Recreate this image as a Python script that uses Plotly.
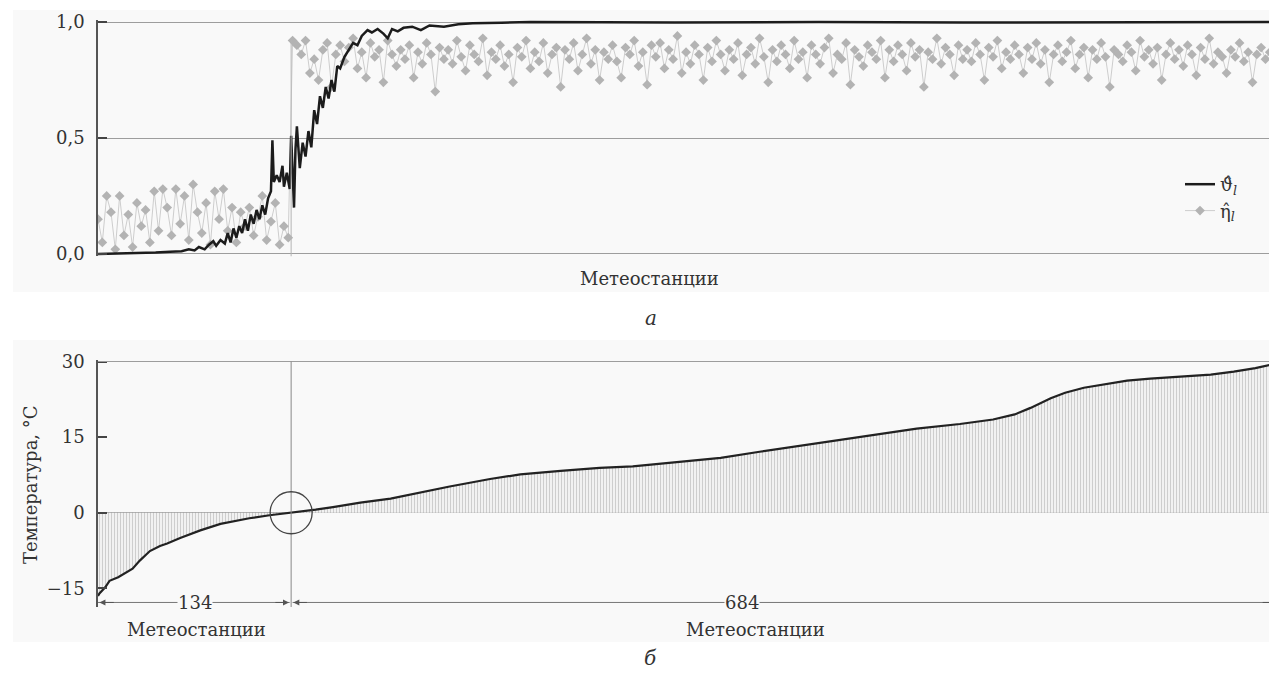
import plotly.graph_objects as go

W, H = 1277, 673          # target picture size
OFF = 8                   # default page body margin
FW, FH = W - OFF, H - OFF  # figure size so that it fits the window
N_ST = 818
SPLIT = 134

# ---------------- top panel data ----------------
theta_st = [0, 20, 40, 50, 58, 63, 67, 70, 74, 77,
            80, 82, 85, 88, 90, 92, 94, 96, 98, 100,
            102, 104, 106, 108, 110, 112, 114, 116, 118, 120,
            121, 122, 124, 126, 128, 129, 131, 133, 134, 136,
            137, 138, 140, 142, 144, 146, 148, 150, 152, 154,
            156, 158, 160, 162, 164, 166, 168, 171, 174, 177,
            180, 183, 187, 190, 194, 198, 201, 204, 208, 212,
            218, 224, 230, 240, 250, 260, 280, 300, 400, 500,
            600, 700, 818]
theta_val = [0.0, 0.002, 0.006, 0.01, 0.012, 0.02, 0.015, 0.03, 0.02, 0.04,
             0.055, 0.035, 0.06, 0.045, 0.09, 0.05, 0.11, 0.07, 0.12, 0.09,
             0.15, 0.1, 0.17, 0.13, 0.19, 0.15, 0.21, 0.17, 0.24, 0.27,
             0.49, 0.31, 0.34, 0.31, 0.38, 0.29, 0.35, 0.28, 0.51, 0.2,
             0.45, 0.55, 0.37, 0.48, 0.42, 0.53, 0.46, 0.62, 0.56, 0.68,
             0.63, 0.72, 0.67, 0.75, 0.7, 0.81, 0.8, 0.85, 0.88, 0.91,
             0.9, 0.94, 0.965, 0.955, 0.97, 0.95, 0.93, 0.97, 0.96, 0.975,
             0.98, 0.965, 0.985, 0.98, 0.99, 0.995, 0.997, 1.0, 0.998, 1.0,
             0.998, 1.0, 1.0]

eta_low_st = list(range(0, 133, 3))
eta_low = [0.15, 0.05, 0.25, 0.18, 0.02, 0.25, 0.08, 0.17, 0.03, 0.22,
           0.12, 0.19, 0.05, 0.27, 0.10, 0.28, 0.20, 0.08, 0.28, 0.13,
           0.25, 0.06, 0.30, 0.18, 0.09, 0.22, 0.04, 0.27, 0.15, 0.28,
           0.10, 0.20, 0.05, 0.18, 0.12, 0.20, 0.08, 0.16, 0.25, 0.06,
           0.14, 0.22, 0.04, 0.12, 0.07]

eta_high_st = list(range(135, 817, 3))
eta_high = [0.92, 0.90, 0.86, 0.92, 0.78, 0.84, 0.75, 0.88, 0.91, 0.72, 0.86, 0.90,
            0.83, 0.89, 0.93, 0.80, 0.87, 0.76, 0.91, 0.85, 0.88, 0.74, 0.92, 0.86,
            0.81, 0.88, 0.84, 0.90, 0.76, 0.87, 0.82, 0.91, 0.86, 0.70, 0.89, 0.84,
            0.88, 0.82, 0.92, 0.85, 0.79, 0.90, 0.86, 0.83, 0.93, 0.77, 0.87, 0.84,
            0.90, 0.81, 0.86, 0.74, 0.89, 0.85, 0.92, 0.80, 0.87, 0.83, 0.91, 0.78,
            0.86, 0.89, 0.72, 0.88, 0.84, 0.91, 0.79, 0.86, 0.93, 0.82, 0.88, 0.75,
            0.87, 0.84, 0.90, 0.83, 0.76, 0.89, 0.86, 0.92, 0.81, 0.87, 0.73, 0.90,
            0.85, 0.91, 0.80, 0.88, 0.84, 0.94, 0.78, 0.87, 0.82, 0.90, 0.86, 0.75,
            0.89, 0.83, 0.92, 0.86, 0.79, 0.88, 0.84, 0.91, 0.77, 0.86, 0.89, 0.82,
            0.93, 0.85, 0.74, 0.88, 0.83, 0.90, 0.86, 0.80, 0.92, 0.84, 0.87, 0.76,
            0.90, 0.86, 0.82, 0.89, 0.93, 0.78, 0.86, 0.84, 0.91, 0.73, 0.88, 0.85,
            0.81, 0.90, 0.87, 0.84, 0.92, 0.76, 0.88, 0.83, 0.90, 0.86, 0.79, 0.91,
            0.85, 0.88, 0.72, 0.87, 0.84, 0.93, 0.82, 0.89, 0.86, 0.77, 0.90, 0.84,
            0.88, 0.83, 0.91, 0.86, 0.75, 0.89, 0.85, 0.92, 0.80, 0.87, 0.84, 0.90,
            0.86, 0.78, 0.89, 0.84, 0.91, 0.82, 0.88, 0.74, 0.86, 0.90, 0.83, 0.87,
            0.92, 0.80, 0.86, 0.89, 0.76, 0.88, 0.84, 0.91, 0.85, 0.72, 0.88, 0.86,
            0.83, 0.90, 0.87, 0.79, 0.92, 0.85, 0.88, 0.82, 0.89, 0.75, 0.86, 0.91,
            0.84, 0.88, 0.81, 0.90, 0.86, 0.77, 0.89, 0.84, 0.93, 0.82, 0.87, 0.85,
            0.78, 0.88, 0.85, 0.91, 0.83, 0.87, 0.74, 0.86, 0.89, 0.84, 0.87, 0.85]

top_ticks = [0.0, 0.5, 1.0]
top_ticktext = ["0,0", "0,5", "1,0"]

# ---------------- bottom panel data ----------------
temp_st = [0, 1, 5, 8, 14, 19, 24, 29, 36, 43,
           48, 57, 71, 85, 105, 119, 135, 151, 163, 182,
           203, 221, 244, 272, 293, 321, 348, 371, 404, 432,
           459, 487, 508, 529, 568, 598, 621, 636, 647, 661,
           671, 684, 702, 714, 730, 753, 772, 788, 803, 818]
temp_val = [-16.5, -16.0, -14.8, -13.5, -12.8, -12.0, -11.1, -9.5, -7.6, -6.6,
            -6.1, -5.0, -3.5, -2.2, -1.1, -0.5, 0.0, 0.6, 1.1, 2.0,
            2.8, 3.9, 5.2, 6.7, 7.6, 8.3, 8.9, 9.2, 10.1, 10.9,
            12.1, 13.3, 14.2, 15.1, 16.7, 17.6, 18.5, 19.5, 20.8, 22.7,
            23.8, 24.8, 25.7, 26.2, 26.6, 27.0, 27.4, 28.0, 28.7, 29.6]

bot_ticks = [-15, 0, 15, 30]
bot_ticktext = ["\u221215", "0", "15", "30"]

count_left = 134
count_right = 684

FONT = "DejaVu Serif, Liberation Serif, serif"
TXT = "#333"
FS = 18
BG = "#f9f9f9"


def py(p):
    """window pixel row -> paper y"""
    return 1 - (p - OFF) / FH


def px(p):
    """window pixel column -> paper x"""
    return (p - OFF) / FW


fig = go.Figure()

# eta series
fig.add_trace(go.Scatter(
    x=eta_low_st + eta_high_st, y=eta_low + eta_high,
    mode="lines+markers", name="\u03b7\u0302<sub><i>l</i></sub>", legendrank=2,
    line=dict(color="#cdcdcd", width=1),
    marker=dict(symbol="diamond", size=7.5, color="#b3b3b3"),
    xaxis="x", yaxis="y"))

# theta series
fig.add_trace(go.Scatter(
    x=theta_st, y=theta_val, mode="lines",
    name="\u03d1\u0302<sub><i>l</i></sub>", legendrank=1,
    line=dict(color="#1c1c1c", width=2.5),
    xaxis="x", yaxis="y"))

# temperature
fig.add_trace(go.Scatter(
    x=temp_st, y=temp_val, mode="lines", showlegend=False,
    fill="tozeroy", fillcolor="rgba(0,0,0,0)",
    fillpattern=dict(shape="|", fgcolor="#cdcdcd", bgcolor="#f1f1f1", size=3, solidity=0.35),
    line=dict(color="#222222", width=2.2),
    xaxis="x2", yaxis="y2"))

xdom = [px(98), 1.0]
fig.update_layout(
    template="none",
    width=FW, height=FH,
    margin=dict(l=0, r=0, t=0, b=0, pad=0, autoexpand=False),
    paper_bgcolor="white", plot_bgcolor="rgba(0,0,0,0)",
    font=dict(family=FONT, size=FS, color=TXT),
    showlegend=True,
    legend=dict(x=px(1180), y=py(166), xanchor="left", yanchor="top",
                bgcolor="rgba(0,0,0,0)", borderwidth=0,
                font=dict(size=FS, family=FONT, color=TXT),
                tracegroupgap=0, itemwidth=30),
    xaxis=dict(domain=xdom, range=[0, N_ST], showticklabels=False, showgrid=False,
               zeroline=False, showline=False, anchor="y", automargin=False),
    yaxis=dict(domain=[py(256.3), py(19.7)], range=[-0.01, 1.01], anchor="x",
               tickvals=top_ticks, ticktext=top_ticktext, showgrid=True,
               gridcolor="#9d9d9d", gridwidth=1, zeroline=False,
               showline=True, linecolor="#555", linewidth=1.5,
               ticks="inside", ticklen=9, tickcolor="#444", tickwidth=1.5,
               ticklabelstandoff=8, automargin=False,
               tickfont=dict(family=FONT, size=FS, color=TXT)),
    xaxis2=dict(domain=xdom, range=[0, N_ST], showticklabels=False, showgrid=False,
                zeroline=False, showline=False, anchor="y2", automargin=False),
    yaxis2=dict(domain=[py(607), py(360)], range=[-18.7, 30.3], anchor="x2",
                tickvals=bot_ticks, ticktext=bot_ticktext, showgrid=False,
                zeroline=True, zerolinecolor="#9d9d9d", zerolinewidth=1,
                showline=True, linecolor="#555", linewidth=1.5,
                ticks="inside", ticklen=9, tickcolor="#444", tickwidth=1.5,
                ticklabelstandoff=8, automargin=False,
                tickfont=dict(family=FONT, size=FS, color=TXT)),
)

shapes = [
    # panel backgrounds
    dict(type="rect", xref="paper", yref="paper", x0=px(13), x1=1, y0=py(292), y1=py(10),
         fillcolor=BG, line=dict(width=0), layer="below"),
    dict(type="rect", xref="paper", yref="paper", x0=px(13), x1=1, y0=py(642), y1=py(340),
         fillcolor=BG, line=dict(width=0), layer="below"),
    # split line top panel
    dict(type="line", xref="x", yref="y", x0=SPLIT, x1=SPLIT, y0=-0.015, y1=0.92,
         line=dict(color="#b5b5b5", width=1)),
    # top line of bottom panel at 30
    dict(type="line", xref="x2", yref="y2", x0=0, x1=N_ST, y0=30, y1=30,
         line=dict(color="#9d9d9d", width=1)),
    # split line bottom panel
    dict(type="line", xref="x2", yref="y2", x0=SPLIT, x1=SPLIT, y0=-18.7, y1=30,
         line=dict(color="#888", width=1)),
    # circle around zero crossing
    dict(type="circle", xref="x2", yref="y2", xsizemode="pixel", ysizemode="pixel",
         xanchor=SPLIT, yanchor=0, x0=-21, x1=21, y0=-21, y1=21,
         line=dict(color="#444", width=1.3)),
    # dimension lines
    dict(type="line", xref="x2", yref="y2", x0=0, x1=SPLIT - 1, y0=-17.8, y1=-17.8,
         line=dict(color="#777", width=1)),
    dict(type="line", xref="x2", yref="y2", x0=SPLIT + 1, x1=N_ST, y0=-17.8, y1=-17.8,
         line=dict(color="#777", width=1)),
]
fig.update_layout(shapes=shapes)


def arrow(tip, tail):
    fig.add_annotation(x=tip, y=-17.8, ax=tail, ay=-17.8, xref="x2", yref="y2",
                       axref="x2", ayref="y2", text="", showarrow=True,
                       arrowhead=2, arrowsize=1.2, arrowwidth=1, arrowcolor="#555",
                       standoff=0)


arrow(1, 12)
arrow(SPLIT - 1.5, SPLIT - 12)
arrow(SPLIT + 1.5, SPLIT + 12)
arrow(N_ST, N_ST - 11)


def label(x, y, text, size=FS, angle=0, bg=None, xref="paper", yref="paper"):
    fig.add_annotation(x=x, y=y, xref=xref, yref=yref, text=text, showarrow=False,
                       xanchor="center", yanchor="middle", textangle=angle,
                       bgcolor=bg if bg else "rgba(0,0,0,0)", borderpad=0,
                       font=dict(size=size, family=FONT, color=TXT))


label(count_left / 2, -17.8, str(count_left), bg=BG, xref="x2", yref="y2")
label(px(742), py(602), str(count_right), bg=BG)
label(px(196), py(629), "Метеостанции")
label(px(755), py(629), "Метеостанции")
label(px(650), py(278), "Метеостанции")
label(px(30), py(485), "Температура, °С", angle=-90)
label(px(651), py(318), "<i>а</i>", size=20)
label(px(651), py(658), "<i>б</i>", size=20)

fig.write_html("out.html", config=dict(displayModeBar=False))
